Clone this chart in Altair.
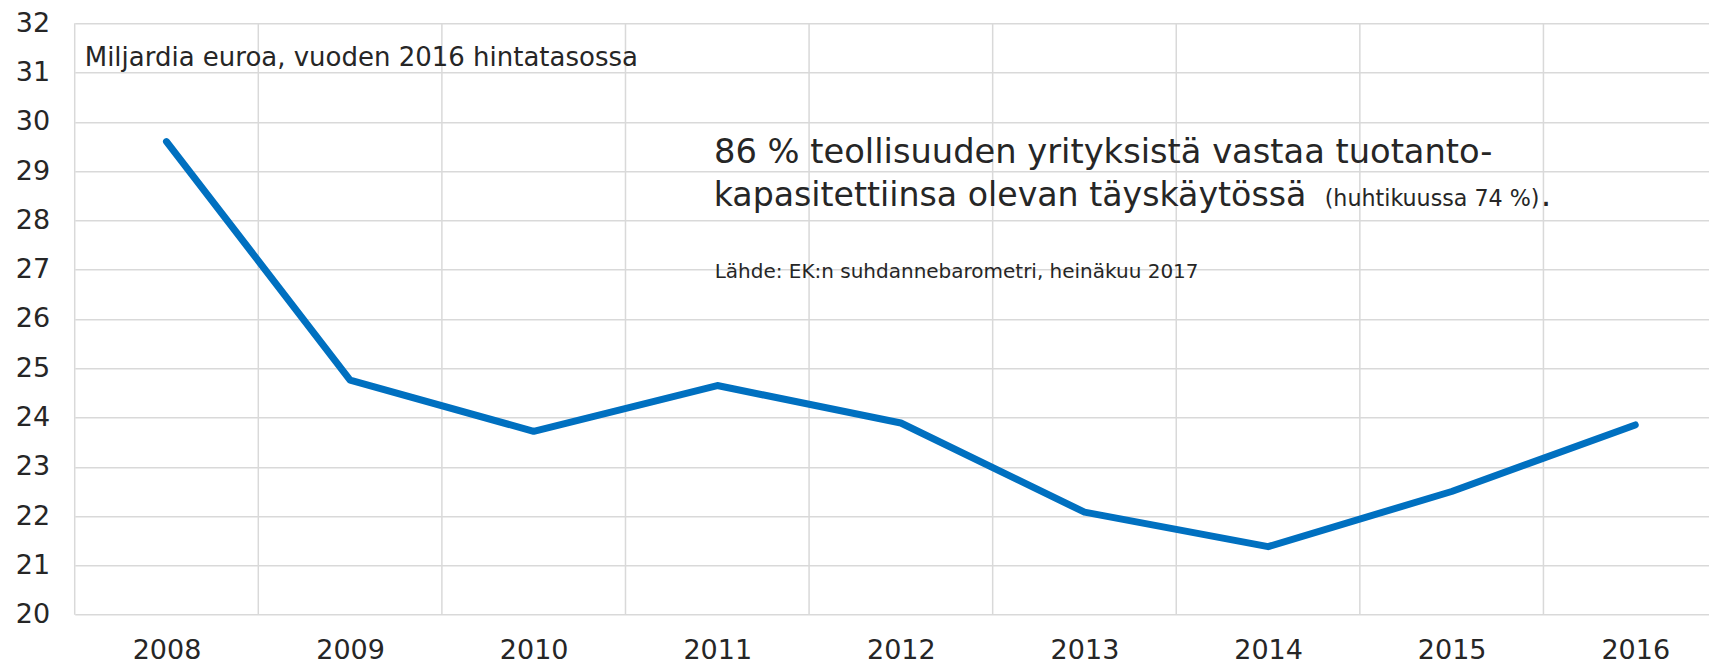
import altair as alt
import pandas as pd

# ---- data ----
years = [2008, 2009, 2010, 2011, 2012, 2013, 2014, 2015, 2016]
values = [29.60, 24.76, 23.72, 24.65, 23.89, 22.08, 21.38, 22.50, 23.85]
boundaries = [2007.5, 2008.5, 2009.5, 2010.5, 2011.5, 2012.5, 2013.5, 2014.5, 2015.5]
y_ticks = list(range(20, 33))

unit_label = "Miljardia euroa, vuoden 2016 hintatasossa"
note_line1 = "86 % teollisuuden yrityksistä vastaa tuotanto-"
note_line2 = "kapasitettiinsa olevan täyskäytössä"
note_small = "(huhtikuussa 74 %)"
note_dot = "."
source = "Lähde: EK:n suhdannebarometri, heinäkuu 2017"

FONT = "DejaVu Sans"
TXT = "#262626"
GRID = "#d9d9d9"

W = 1634
H = 591.4
x_scale = alt.Scale(domain=[2007.5, 2016.40], nice=False, zero=False)
y_scale = alt.Scale(domain=[20, 32], nice=False, zero=False)

x_axis = alt.Axis(values=years, format="d", title=None, grid=False, domain=False,
                  ticks=False, labelFontSize=27, labelFont=FONT, labelColor=TXT,
                  labelPadding=23, labelFlush=False, labelOverlap=False)
y_axis = alt.Axis(values=y_ticks, format="d", title=None, grid=True, gridColor=GRID,
                  gridWidth=1.5, domain=False, ticks=False, labelFontSize=27,
                  labelFont=FONT, labelColor=TXT, labelPadding=25)

line_df = pd.DataFrame({"year": years, "value": values})
bnd_df = pd.DataFrame({"b": boundaries})

vgrid = alt.Chart(bnd_df).mark_rule(color=GRID, strokeWidth=1.5).encode(
    x=alt.X("b:Q", scale=x_scale, axis=x_axis)
)

line = alt.Chart(line_df).mark_line(
    color="#0070C0", strokeWidth=7, strokeCap="round", strokeJoin="round"
).encode(
    x=alt.X("year:Q", scale=x_scale, axis=x_axis),
    y=alt.Y("value:Q", scale=y_scale, axis=y_axis),
)


def label(text, x, y, size):
    return alt.Chart(alt.Data(values=[{"t": text}])).mark_text(
        align="left", baseline="alphabetic", font=FONT, fontSize=size, color=TXT
    ).encode(text="t:N", x=alt.value(x), y=alt.value(y))


texts = [
    label(unit_label, 10, 42.7, 26),
    label(note_line1, 639.3, 140, 33.7),
    label(note_line2, 639, 183.2, 33.2),
    label(note_small, 1250, 183.2, 22.2),
    label(note_dot, 1466, 183.2, 33.2),
    label(source, 640, 255, 20),
]

chart = alt.layer(vgrid, line, *texts).properties(
    width=W, height=H,
    autosize=alt.AutoSizeParams(type="none"),
    padding={"left": 66.7, "top": 15.3, "right": 0, "bottom": 50},
    background="white",
).configure_view(stroke=None)

chart.save("out.html", embed_options={"renderer": "svg", "actions": False})
